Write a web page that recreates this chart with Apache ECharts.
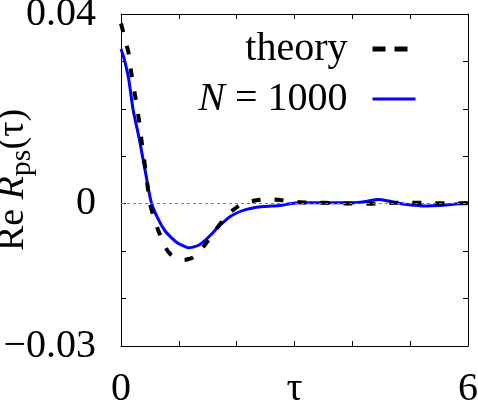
<!DOCTYPE html>
<html>
<head>
<meta charset="utf-8">
<script src="https://cdn.jsdelivr.net/npm/echarts@6/dist/echarts.min.js"></script>
<style>html,body{margin:0;padding:0;background:#fff}#c{width:478px;height:402px}</style>
</head>
<body>
<div id="c"></div>
<script>
var theoryTau = [0, 0.03, 0.06, 0.13, 0.18, 0.25, 0.31, 0.36, 0.43, 0.5, 0.57, 0.65, 0.74, 0.82, 0.92, 1.02, 1.1, 1.16, 1.25, 1.35, 1.45, 1.56, 1.68, 1.8, 1.94, 2.1, 2.32, 2.55, 2.75, 2.92, 3.1, 3.32, 3.52, 3.73, 3.9, 4.1, 4.3, 4.5, 4.75, 5.0, 5.2, 5.43, 5.65, 5.86, 6.0];
var theoryVal = [0.0380, 0.0366, 0.0350, 0.0318, 0.0274, 0.0223, 0.0177, 0.0128, 0.0066, 0.0002, -0.0030, -0.0058, -0.0084, -0.0102, -0.0112, -0.0117, -0.0118, -0.0117, -0.0113, -0.0101, -0.0087, -0.0068, -0.0048, -0.0030, -0.0013, 0.0000, 0.00066, 0.00095, 0.0008, 0.0005, 0.0003, 0.0002, 0.0002, 0.0001, 0.00005, 0.0, 0.0, 0.0001, 0.0002, 0.0002, 0.0002, 0.0001, 0.0001, 0.0001, 0.0001];
var simTau = [0, 0.06, 0.13, 0.21, 0.31, 0.36, 0.44, 0.53, 0.65, 0.76, 0.875, 0.98, 1.08, 1.16, 1.26, 1.35, 1.45, 1.55, 1.65, 1.77, 1.89, 2.03, 2.17, 2.32, 2.46, 2.6, 2.75, 2.92, 3.1, 3.4, 3.7, 4.0, 4.2, 4.45, 4.65, 4.85, 5.05, 5.29, 5.5, 5.75, 6.0];
var simVal = [0.0326, 0.0303, 0.0265, 0.0198, 0.0140, 0.0108, 0.0055, 0.0000, -0.0034, -0.0057, -0.0072, -0.0083, -0.0089, -0.0093, -0.0091, -0.0087, -0.0078, -0.0066, -0.0053, -0.0039, -0.0027, -0.0018, -0.0012, -0.0008, -0.0006, -0.0005, -0.0004, 0.0000, 0.0002, 0.0002, 0.0002, 0.0002, 0.0004, 0.0009, 0.0005, 0.0000, -0.0003, -0.0005, -0.0004, -0.0001, 0.0002];
var xTickLabels = {0: '0', 3: '\u03c4', 6: '6'};
var yTickLabels = [[0.04, '0.04'], [0, '0'], [-0.03, '\u22120.03']];
var seriesNames = ['theory', 'N = 1000'];

var FONT = 'Liberation Serif';
function pairs(xs, ys) { return xs.map(function (x, i) { return [x, ys[i]]; }); }
var axisCommon = {
  type: 'value',
  axisLine: { show: true, onZero: false, lineStyle: { color: '#000', width: 1 } },
  axisTick: { show: true, inside: true, length: 5, lineStyle: { color: '#000', width: 1 } },
  splitLine: { show: false }
};
var chart = echarts.init(document.getElementById('c'), null, { renderer: 'canvas' });
chart.setOption({
  animation: false,
  backgroundColor: '#fff',
  grid: { left: 121, right: 10, top: 14, bottom: 56, containLabel: false, outerBoundsMode: 'none' },
  xAxis: [
    Object.assign({}, axisCommon, {
      min: 0, max: 6, interval: 1, position: 'bottom',
      axisLabel: {
        margin: 23, fontFamily: FONT, fontSize: 40, color: '#000',
        formatter: function (v) { return xTickLabels[Math.round(v)] !== undefined && Math.abs(v - Math.round(v)) < 1e-9 ? xTickLabels[Math.round(v)] : ''; }
      }
    }),
    Object.assign({}, axisCommon, { min: 0, max: 6, interval: 1, position: 'top', axisLabel: { show: false } })
  ],
  yAxis: [
    Object.assign({}, axisCommon, {
      min: -0.03, max: 0.04, interval: 0.01, position: 'left',
      axisLabel: { show: false },
      name: '{a|Re }{i|R}{s|ps}{a|(\u03c4)}',
      nameLocation: 'middle', nameRotate: 90, nameGap: 84, nameMoveOverlap: false,
      nameTextStyle: {
        color: '#000', fontFamily: FONT, fontSize: 38,
        rich: {
          a: { fontFamily: FONT, fontSize: 38, color: '#000', lineHeight: 48 },
          i: { fontFamily: FONT, fontSize: 38, fontStyle: 'italic', color: '#000', lineHeight: 48 },
          s: { fontFamily: FONT, fontSize: 30, color: '#000', lineHeight: 30, verticalAlign: 'bottom' }
        }
      }
    }),
    Object.assign({}, axisCommon, { min: -0.03, max: 0.04, interval: 0.01, position: 'right', axisLabel: { show: false } })
  ],
  legend: {
    data: [
      { name: seriesNames[0], lineStyle: { width: 5, type: [13, 9], color: '#000' } },
      { name: seriesNames[1], lineStyle: { width: 3, color: '#0000ff' } }
    ],
    orient: 'vertical', right: 60, top: 29, align: 'right', padding: 0,
    itemWidth: 43, itemHeight: 14, itemGap: 10,
    itemStyle: { opacity: 0 },
    textStyle: {
      fontFamily: FONT, fontSize: 40, color: '#000', lineHeight: 40, padding: [0, 20, 0, 0],
      rich: { i: { fontFamily: FONT, fontSize: 40, fontStyle: 'italic', color: '#000', lineHeight: 40 } }
    },
    formatter: function (name) { return name === 'N = 1000' ? '{i|N} = 1000' : name; }
  },
  series: [
    {
      name: seriesNames[1], type: 'line', data: pairs(simTau, simVal),
      symbol: 'none', smooth: 0.3, z: 2,
      lineStyle: { color: '#0000ff', width: 3 },
      itemStyle: { color: '#0000ff' },
      markLine: {
        silent: true, symbol: 'none', label: { show: false },
        lineStyle: { color: '#808080', width: 1, type: [3, 3] },
        data: [{ yAxis: 0 }]
      }
    },
    {
      name: seriesNames[0], type: 'line', data: pairs(theoryTau, theoryVal),
      symbol: 'none', smooth: 0.3, z: 3,
      lineStyle: { color: '#000', width: 4, type: [9, 14] },
      itemStyle: { color: '#000' }
    }
  ]
});
// y tick labels placed through the axis scale
var axisX = chart.convertToPixel({ xAxisIndex: 0 }, 0);
chart.setOption({
  graphic: yTickLabels.map(function (t) {
    return {
      type: 'text', silent: true, z: 10,
      x: axisX - 25, y: chart.convertToPixel({ yAxisIndex: 0 }, t[0]),
      style: { text: t[1], font: '40px "Liberation Serif"', fill: '#000', align: 'right', verticalAlign: 'middle' }
    };
  })
});
</script>
</body>
</html>
